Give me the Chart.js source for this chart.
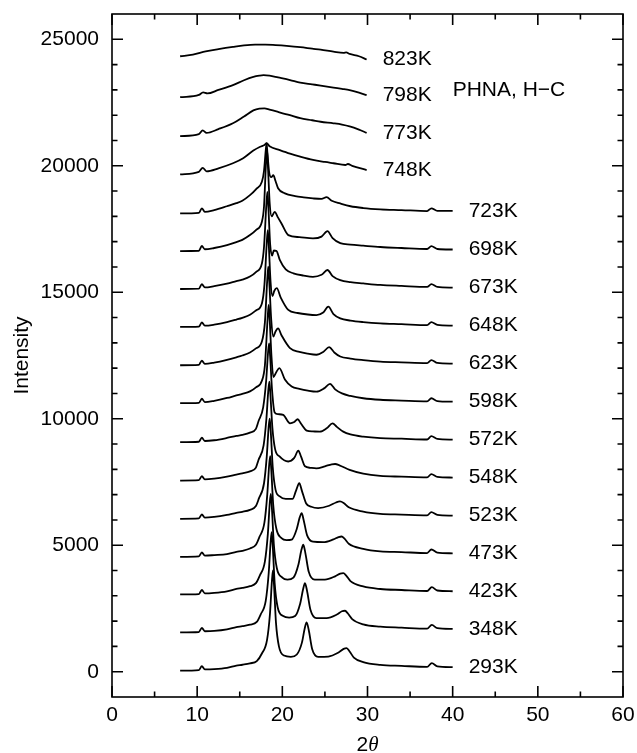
<!DOCTYPE html>
<html>
<head>
<meta charset="utf-8">
<script src="https://cdn.jsdelivr.net/npm/chart.js@4.4.1/dist/chart.umd.min.js"></script>
<style>
html, body { margin: 0; padding: 0; background: #fff; }
</style>
</head>
<body>
<canvas id="myChart" width="637" height="753"></canvas>
<script>
// temperatures, bottom to top, and the vertical shift of each pattern
const temps = ['293K', '348K', '423K', '473K', '523K', '548K', '572K', '598K', '623K',
               '648K', '673K', '698K', '723K', '748K', '773K', '798K', '823K'];
const offsets = [0, 1500, 3000, 4500, 6000, 7500, 9000, 10500, 12000,
                 13500, 15000, 16500, 18000, 19500, 21000, 22500, 24000];

// axis ticks
const xMajor = [0, 10, 20, 30, 40, 50, 60];
const xMinor = [5, 15, 25, 35, 45, 55];
const yMajor = [0, 5000, 10000, 15000, 20000, 25000];
const yMinor = [1000, 2000, 3000, 4000, 6000, 7000, 8000, 9000, 11000, 12000, 13000, 14000,
                16000, 17000, 18000, 19000, 21000, 22000, 23000, 24000];

// 2theta / intensity (above the curve's own offset)
const x293 = [8, 10.2, 10.55, 10.9, 12.0, 13.5, 14.6, 15.3, 16.2, 17.0, 17.6, 18.2, 18.55, 18.78, 18.9, 19.02, 19.25, 19.6, 20.2, 21.0, 21.7, 22.3, 22.62, 22.85, 23.1, 23.5, 24.2, 25.4, 26.6, 27.2, 27.55, 27.9, 28.4, 29.5, 31.5, 34.0, 37.0, 37.55, 38.2, 40];
const y293 = [40, 65, 220, 90, 100, 150, 240, 275, 330, 420, 720, 1250, 2300, 3600, 4000, 3450, 1950, 1000, 640, 590, 680, 1150, 1700, 1950, 1650, 900, 590, 600, 760, 900, 930, 800, 560, 380, 270, 230, 190, 340, 210, 180];

const x348 = [8, 10.2, 10.55, 10.9, 12.0, 13.5, 14.6, 15.3, 16.2, 17.0, 17.45, 18.05, 18.4, 18.63, 18.75, 18.87, 19.1, 19.45, 20.1, 20.8, 21.5, 22.1, 22.43, 22.66, 22.9, 23.3, 24.0, 25.2, 26.4, 27.0, 27.36, 27.7, 28.2, 29.5, 31.5, 34.0, 37.0, 37.55, 38.2, 40];
const y348 = [52, 70, 230, 100, 110, 170, 260, 300, 360, 470, 760, 1300, 2400, 3650, 4020, 3500, 2000, 1050, 700, 640, 700, 1200, 1750, 2000, 1700, 950, 620, 620, 760, 890, 910, 800, 580, 370, 280, 240, 200, 350, 220, 190];

const x423 = [8, 10.2, 10.55, 10.9, 12.0, 13.5, 14.6, 15.3, 16.2, 16.9, 17.35, 17.95, 18.3, 18.53, 18.65, 18.77, 19.0, 19.35, 20.0, 20.6, 21.3, 21.9, 22.23, 22.46, 22.7, 23.1, 23.8, 25.0, 26.2, 26.8, 27.16, 27.5, 28.0, 29.5, 31.5, 34.0, 37.0, 37.55, 38.2, 40];
const y423 = [53, 70, 230, 100, 120, 180, 270, 310, 380, 500, 800, 1350, 2450, 3700, 4030, 3500, 2050, 1100, 720, 640, 720, 1250, 1800, 2020, 1700, 950, 640, 640, 770, 880, 900, 800, 580, 370, 270, 230, 190, 340, 210, 180];

const x473 = [8, 10.2, 10.55, 10.9, 12.0, 13.5, 14.6, 15.3, 16.2, 16.9, 17.3, 17.9, 18.23, 18.46, 18.58, 18.7, 18.93, 19.3, 19.9, 20.5, 21.1, 21.7, 22.04, 22.27, 22.5, 22.9, 23.6, 24.8, 26.0, 26.6, 26.96, 27.3, 27.8, 29.5, 31.5, 34.0, 37.0, 37.5, 38.2, 40];
const y473 = [43, 60, 220, 90, 110, 150, 240, 280, 370, 520, 820, 1400, 2500, 3700, 4020, 3500, 2100, 1150, 780, 700, 720, 1150, 1600, 1770, 1500, 900, 640, 620, 730, 820, 845, 760, 560, 360, 260, 230, 190, 330, 210, 180];

const x523 = [8, 10.2, 10.55, 10.9, 12.0, 13.5, 14.6, 15.3, 16.2, 16.9, 17.25, 17.85, 18.17, 18.4, 18.52, 18.64, 18.87, 19.2, 19.7, 20.4, 21.2, 21.6, 21.99, 22.3, 22.8, 23.4, 24.2, 25.5, 26.3, 26.77, 27.2, 27.8, 29.5, 31.5, 34.0, 37.0, 37.5, 38.2, 40];
const y523 = [44, 60, 220, 90, 120, 200, 280, 320, 400, 550, 850, 1450, 2500, 3700, 4000, 3500, 2100, 1200, 930, 830, 830, 1150, 1450, 1150, 650, 520, 470, 560, 690, 730, 670, 500, 330, 240, 210, 180, 310, 200, 170];

const x548 = [8, 10.2, 10.55, 10.9, 12.0, 13.5, 14.6, 15.3, 16.2, 16.9, 17.2, 17.8, 18.13, 18.36, 18.48, 18.6, 18.83, 19.15, 19.7, 20.7, 21.4, 21.88, 22.2, 22.66, 23.3, 24.0, 25.0, 25.8, 26.2, 26.7, 27.9, 29.5, 31.5, 34.0, 37.0, 37.5, 38.2, 40];
const y548 = [56, 70, 230, 100, 130, 210, 290, 340, 420, 570, 870, 1450, 2500, 3650, 3970, 3450, 2150, 1300, 1000, 810, 950, 1240, 1000, 620, 560, 540, 620, 700, 710, 660, 480, 330, 240, 210, 180, 310, 200, 175];

const x572 = [8, 10.2, 10.55, 10.9, 12.0, 13.5, 14.6, 15.3, 16.2, 16.9, 17.2, 17.75, 18.1, 18.33, 18.45, 18.57, 18.8, 19.1, 19.5, 20.1, 20.9, 21.4, 21.8, 22.2, 22.86, 23.6, 24.4, 25.2, 25.9, 26.4, 27.15, 28.0, 29.5, 31.5, 34.0, 37.0, 37.5, 38.2, 40];
const y572 = [73, 90, 250, 120, 150, 240, 320, 360, 450, 600, 900, 1450, 2500, 3650, 3980, 3450, 2100, 1250, 1180, 1150, 820, 870, 980, 800, 530, 500, 490, 620, 820, 680, 490, 380, 290, 230, 210, 180, 310, 200, 175];

const x598 = [8, 10.2, 10.55, 10.9, 12.0, 13.5, 14.6, 15.3, 16.2, 16.9, 17.6, 17.95, 18.28, 18.4, 18.52, 18.72, 18.95, 19.3, 19.65, 20.3, 21.1, 22.0, 23.0, 24.0, 24.9, 25.6, 26.2, 27.0, 28.0, 29.5, 31.5, 34.0, 37.0, 37.5, 38.2, 40];
const y598 = [114, 130, 290, 160, 210, 320, 420, 480, 580, 740, 1000, 1600, 3500, 4000, 3400, 2000, 1150, 1350, 1500, 1050, 770, 680, 610, 570, 700, 880, 660, 500, 400, 310, 250, 220, 190, 310, 200, 175];

const x623 = [8, 10.2, 10.55, 10.9, 12.0, 13.5, 14.6, 15.3, 16.2, 16.9, 17.6, 17.95, 18.23, 18.35, 18.47, 18.7, 18.95, 19.2, 19.5, 19.9, 20.9, 22.0, 23.0, 24.0, 24.8, 25.5, 26.1, 26.8, 28.0, 29.5, 31.5, 34.0, 37.0, 37.5, 38.2, 40];
const y623 = [115, 130, 300, 170, 220, 330, 430, 500, 620, 780, 1050, 1800, 3500, 4010, 3400, 1900, 1250, 1450, 1570, 1300, 790, 640, 570, 530, 640, 830, 620, 460, 380, 320, 260, 230, 200, 320, 205, 180];

const x648 = [8, 10.2, 10.55, 10.9, 12.0, 13.5, 14.6, 15.3, 16.2, 16.9, 17.6, 17.9, 18.18, 18.3, 18.42, 18.62, 18.85, 19.05, 19.35, 19.8, 20.7, 21.8, 23.0, 24.0, 24.8, 25.4, 26.0, 26.8, 28.0, 29.5, 31.5, 34.0, 37.0, 37.5, 38.2, 40];
const y648 = [128, 140, 310, 180, 220, 320, 420, 490, 610, 780, 1060, 1800, 3500, 3960, 3300, 1900, 1350, 1550, 1660, 1300, 800, 680, 620, 600, 700, 930, 640, 470, 380, 320, 270, 240, 200, 320, 210, 180];

const x673 = [8, 10.2, 10.55, 10.9, 12.0, 13.5, 14.6, 15.3, 16.2, 16.9, 17.6, 17.85, 18.13, 18.25, 18.37, 18.57, 18.8, 19.0, 19.3, 19.7, 20.4, 21.3, 22.5, 23.6, 24.6, 25.3, 25.9, 26.8, 28.0, 29.5, 31.5, 34.0, 37.0, 37.5, 38.2, 40];
const y673 = [129, 140, 320, 190, 240, 340, 440, 500, 620, 800, 1140, 1800, 3500, 3970, 3300, 1900, 1450, 1650, 1640, 1280, 900, 750, 660, 610, 690, 880, 640, 480, 400, 350, 290, 250, 210, 320, 210, 185];

const x698 = [8, 10.2, 10.55, 10.9, 12.0, 13.5, 14.6, 15.3, 16.2, 16.9, 17.6, 17.85, 18.08, 18.2, 18.32, 18.52, 18.75, 19.1, 19.5, 19.9, 20.7, 22.0, 23.6, 24.6, 25.3, 25.9, 26.8, 28.0, 29.5, 31.5, 34.0, 37.0, 37.5, 38.2, 40];
const y698 = [130, 140, 330, 200, 250, 360, 480, 570, 760, 960, 1290, 1900, 3600, 4150, 3400, 2000, 1500, 1680, 1450, 1220, 760, 680, 630, 700, 920, 640, 440, 380, 340, 290, 250, 210, 320, 210, 190];

const x723 = [8, 10.2, 10.55, 10.9, 12.0, 13.5, 14.6, 15.3, 16.2, 16.9, 17.6, 17.85, 18.05, 18.15, 18.25, 18.45, 18.7, 18.94, 19.2, 19.5, 20.3, 21.5, 22.5, 23.6, 24.6, 25.2, 25.8, 26.8, 28.0, 29.5, 31.5, 34.0, 37.0, 37.5, 38.2, 40];
const y723 = [118, 140, 320, 180, 250, 400, 520, 620, 840, 1070, 1370, 1800, 2600, 2880, 2500, 1750, 1550, 1630, 1400, 1110, 910, 800, 750, 710, 690, 760, 620, 510, 400, 330, 280, 250, 210, 320, 215, 215];

const x748 = [8, 10.2, 10.65, 11.1, 12.5, 14.2, 15.4, 16.6, 17.4, 17.9, 18.16, 18.5, 19.7, 20.9, 22.1, 23.6, 25.0, 26.0, 27.4, 27.7, 28.2, 29.9];
const y748 = [160, 260, 420, 280, 400, 600, 800, 1100, 1250, 1320, 1390, 1270, 1120, 980, 860, 730, 650, 600, 530, 570, 500, 330];

const x773 = [8, 10.2, 10.65, 11.1, 12.5, 14.2, 15.5, 16.6, 17.3, 17.9, 18.5, 19.5, 20.9, 22.1, 23.5, 24.5, 26.0, 27.0, 27.9, 29.0, 29.9];
const y773 = [170, 250, 400, 300, 450, 680, 950, 1190, 1260, 1270, 1220, 1130, 1000, 880, 800, 740, 680, 630, 560, 430, 300];

const x798 = [8, 10.2, 10.7, 11.2, 12.5, 14.2, 15.5, 16.6, 17.3, 17.8, 18.5, 19.5, 20.9, 22.1, 23.5, 24.5, 26.0, 27.0, 27.9, 29.0, 29.9];
const y798 = [210, 300, 400, 360, 500, 690, 880, 1010, 1060, 1080, 1060, 990, 890, 790, 720, 670, 590, 540, 490, 390, 290];

const x823 = [8, 9.5, 11.0, 12.5, 14.2, 15.5, 16.8, 18.0, 19.2, 20.5, 22.1, 23.5, 24.5, 26.0, 27.2, 27.5, 27.9, 29.0, 29.9];
const y823 = [330, 390, 520, 610, 700, 760, 790, 790, 770, 740, 690, 630, 590, 510, 460, 480, 420, 330, 200];

const patterns = [
    [x293, y293], [x348, y348], [x423, y423], [x473, y473], [x523, y523], [x548, y548],
    [x572, y572], [x598, y598], [x623, y623], [x648, y648], [x673, y673], [x698, y698],
    [x723, y723], [x748, y748], [x773, y773], [x798, y798], [x823, y823]
];

const FONT = "21px 'Liberation Sans', Arial, Helvetica, sans-serif";
const THETA_FONT = "italic 21px 'Liberation Serif', 'Times New Roman', serif";

const datasets = patterns.map((p, i) => ({
    label: temps[i],
    data: p[0].map((tt, j) => ({ x: tt, y: p[1][j] + offsets[i] })),
    borderColor: '#000',
    borderWidth: 1.8,
    pointRadius: 0,
    fill: false,
    cubicInterpolationMode: 'monotone'
}));

// frame, inward ticks, curve labels and axis titles
const framePlugin = {
    id: 'frame',
    afterDraw(chart) {
        const ctx = chart.ctx;
        const a = chart.chartArea;
        const xs = chart.scales.x, ys = chart.scales.y;
        ctx.save();
        ctx.strokeStyle = '#000';
        ctx.lineWidth = 1.6;
        ctx.strokeRect(a.left, a.top, a.right - a.left, a.bottom - a.top);

        ctx.beginPath();
        const xTick = (v, len) => {
            const px = xs.getPixelForValue(v);
            ctx.moveTo(px, a.bottom); ctx.lineTo(px, a.bottom - len);
            ctx.moveTo(px, a.top); ctx.lineTo(px, a.top + len);
        };
        const yTick = (v, len) => {
            const py = ys.getPixelForValue(v);
            ctx.moveTo(a.left, py); ctx.lineTo(a.left + len, py);
            ctx.moveTo(a.right, py); ctx.lineTo(a.right - len, py);
        };
        xMajor.forEach(v => xTick(v, 11));
        xMinor.forEach(v => xTick(v, 5.5));
        yMajor.forEach(v => yTick(v, 11));
        yMinor.forEach(v => yTick(v, 5.5));
        ctx.stroke();

        ctx.fillStyle = '#000';
        ctx.font = FONT;
        ctx.textAlign = 'left';
        ctx.textBaseline = 'middle';
        chart.data.datasets.forEach(ds => {
            const last = ds.data[ds.data.length - 1];
            ctx.fillText(ds.label, xs.getPixelForValue(last.x) + 16, ys.getPixelForValue(last.y));
        });
        ctx.fillText('PHNA, H\u2212C', xs.getPixelForValue(40), ys.getPixelForValue(23000));

        // x title: 2θ
        ctx.textBaseline = 'alphabetic';
        const w2 = ctx.measureText('2').width;
        ctx.font = THETA_FONT;
        const wt = ctx.measureText('\u03b8').width;
        const x0 = (a.left + a.right) / 2 - (w2 + wt) / 2;
        ctx.font = FONT;
        ctx.fillText('2', x0, 751);
        ctx.font = THETA_FONT;
        ctx.fillText('\u03b8', x0 + w2, 751);

        // y title
        ctx.font = FONT;
        ctx.translate(28, (a.top + a.bottom) / 2);
        ctx.rotate(-Math.PI / 2);
        ctx.textAlign = 'center';
        ctx.fillText('Intensity', 0, 0);
        ctx.restore();
    }
};

const tickFont = { family: "'Liberation Sans', Arial, sans-serif", size: 21 };

const config = {
    type: 'line',
    data: { datasets: datasets },
    options: {
        responsive: false,
        animation: false,
        events: [],
        layout: { padding: { top: 14, right: 14, left: 0, bottom: 0 } },
        plugins: {
            legend: { display: false },
            tooltip: { enabled: false }
        },
        scales: {
            x: {
                type: 'linear',
                min: 0,
                max: 60,
                afterBuildTicks: s => { s.ticks = xMajor.map(v => ({ value: v })); },
                afterFit: s => { s.height = 56; s.paddingLeft = 0; s.paddingRight = 0; },
                grid: { display: false, drawTicks: false },
                border: { display: false },
                ticks: { color: '#000', font: tickFont, padding: 6, maxRotation: 0 }
            },
            y: {
                type: 'linear',
                min: -1000,
                max: 26000,
                afterBuildTicks: s => { s.ticks = yMajor.map(v => ({ value: v })); },
                afterFit: s => { s.width = 112; s.paddingTop = 0; s.paddingBottom = 0; },
                grid: { display: false, drawTicks: false },
                border: { display: false },
                ticks: { color: '#000', font: tickFont, padding: 13, callback: v => String(v) }
            }
        }
    },
    plugins: [framePlugin]
};

const myChart = new Chart(document.getElementById('myChart'), config);
</script>
</body>
</html>
